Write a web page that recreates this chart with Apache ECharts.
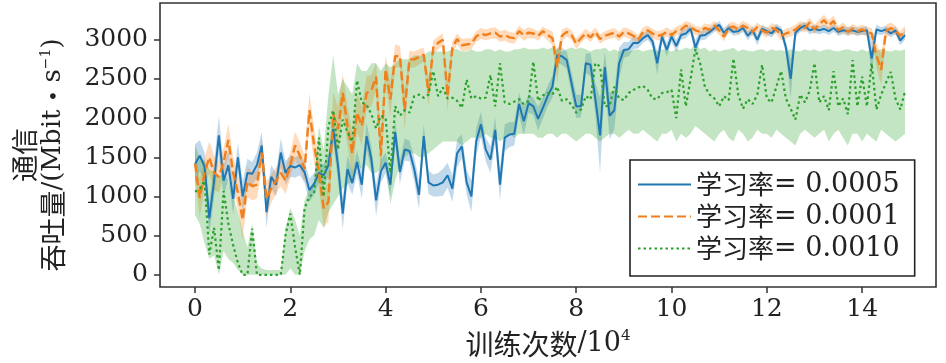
<!DOCTYPE html>
<html>
<head>
<meta charset="utf-8">
<script src="https://cdn.jsdelivr.net/npm/echarts@6/dist/echarts.min.js"></script>
<style>html,body{margin:0;padding:0;background:#fff;}#c{width:946px;height:363px;}</style>
</head>
<body>
<div id="c"></div>
<script>
// training steps (x 10^4)
const steps = Array.from({length: 150}, (_, i) => i / 10);
const xTicks = [0, 2, 4, 6, 8, 10, 12, 14];
const yTicks = [0, 500, 1000, 1500, 2000, 2500, 3000];
const names = ['学习率= 0.0005', '学习率= 0.0001', '学习率= 0.0010'];

const blue = [1415,1520,1380,720,1200,1780,1200,1400,970,1500,
1000,1300,1290,1400,1650,800,1250,1150,1560,1300,
1390,1370,1400,1310,1080,1160,1300,1270,1400,1860,
1400,780,1350,1170,1440,1150,1770,1480,950,1320,
1430,1150,1820,1310,1600,1580,1350,1020,1770,1180,
1140,1150,1180,1270,1100,1550,1640,1180,1000,1700,
1920,1600,1470,1850,1150,1750,1790,1800,2180,1960,
2190,2150,1990,2130,2280,2400,2800,2790,2740,2450,
2150,2150,2700,2680,2250,1780,2650,2030,2100,2700,
2870,2880,2960,2960,3020,3060,2980,2700,3040,2870,
3040,2920,3060,3080,3140,2900,3050,3060,3100,3150,
3190,3090,3150,3100,3110,3150,3050,3120,3000,3140,
3110,3080,3150,3120,2900,2500,3090,3150,3180,3120,
3140,3120,3140,3110,3150,3100,3120,3110,3120,3100,
3110,3120,2760,3130,3110,3130,3080,3120,2990,3060];
const blueStd = [250,200,180,200,220,250,200,180,200,180,
200,180,150,160,180,200,150,150,180,150,
140,130,130,140,150,140,130,140,150,180,
200,200,180,150,150,180,170,160,200,150,
130,150,160,150,140,130,160,180,150,150,
140,150,170,160,170,180,150,160,200,170,
160,150,170,160,200,170,160,150,140,180,
120,110,150,140,130,140,100,110,110,140,
150,140,120,150,200,480,200,300,250,200,
100,90,80,70,60,60,70,150,60,90,
70,80,60,60,50,100,60,60,50,50,
50,60,50,50,50,50,60,50,70,50,
50,50,50,50,80,250,60,50,50,50,
50,50,50,50,50,50,50,50,50,50,
50,60,220,60,50,50,50,50,60,60];

const orange = [1420,980,1300,1500,1300,1250,1440,1720,1300,1050,
700,1190,1130,1150,1560,970,1100,1200,1300,1200,
1400,1650,1520,1350,2100,1650,1300,850,930,2050,
1860,2320,1900,1550,2070,1900,2320,2350,2530,1520,
2620,2240,2790,2790,2100,2750,2750,2780,2810,2320,
2900,2960,3000,2280,2900,3010,2930,2940,2950,3040,
3080,3060,3080,3090,3040,3060,3030,3020,3110,3060,
3090,3080,3050,3110,3060,3020,2650,3050,3100,3060,
2950,3020,3080,3030,3100,3010,3050,3070,3090,3040,
3100,3080,3050,3000,3100,3120,3080,3050,3060,3100,
3060,3110,3130,3180,3160,3120,3100,3150,3130,3180,
3120,3040,3150,3170,3130,3180,3150,3100,3160,3120,
3090,3150,3130,3050,3080,3100,3130,3180,3150,3220,
3130,3200,3250,3180,3240,3120,3160,3100,3140,3110,
3130,3100,3080,2800,2620,3110,3150,3120,3050,3120];
const orangeStd = [200,250,200,200,220,200,180,200,200,220,
250,200,180,180,200,220,180,170,170,170,
160,180,170,170,220,220,200,250,250,280,
280,250,250,280,250,250,220,200,180,280,
180,220,150,130,250,110,100,100,90,180,
90,80,80,200,80,70,80,80,70,70,
70,70,70,70,70,70,70,70,70,70,
70,60,60,60,70,90,200,80,60,60,
70,60,60,60,60,60,60,60,60,60,
60,60,60,60,60,60,60,60,60,60,
60,60,60,60,60,60,60,60,60,60,
60,60,60,60,60,60,60,60,60,60,
60,60,60,60,60,60,60,60,60,60,
60,60,70,70,70,60,60,60,60,60,
60,60,70,150,200,80,70,60,60,60];

const green = [1060,1100,1200,260,600,60,1070,650,380,150,
0,0,590,0,0,0,0,0,0,510,
780,350,0,850,1000,1040,1750,1000,1900,2100,
1600,1980,1820,1700,2480,2200,2170,2050,1870,2030,
2000,1300,2150,2030,2100,2070,2280,2300,2260,2300,
2600,2280,2390,2250,2260,2220,2130,2490,2250,2280,
2250,2260,2550,2150,2700,2200,2180,2210,2240,2180,
2220,2720,2220,2290,2320,2300,2400,2220,2240,2170,
2070,2110,2280,2240,2700,2660,2150,2160,2400,2250,
2230,2320,2360,2390,2410,2360,2250,2240,2320,2330,
2360,2000,2620,2150,2500,2880,2700,2400,2300,2250,
2150,2280,2230,2760,2300,2120,2240,2180,2300,2680,
2250,2200,2400,2600,2250,2120,1980,2300,2200,2350,
2700,2200,2280,2100,2600,2150,2250,2050,2740,2150,
2530,2150,2700,2110,2300,2450,2590,2250,2110,2340];
const greenLo = [760,650,400,200,250,0,300,200,150,60,
0,0,0,0,0,0,0,0,0,0,
80,0,0,300,450,500,700,600,800,900,
1000,1100,1150,1200,1400,1350,1400,1300,1300,1350,
1350,900,1200,1400,1500,1550,1550,1500,1500,1550,
1600,1650,1700,1700,1700,1700,1650,1700,1750,1750,
1750,1800,1750,1750,1700,1750,1800,1750,1800,1800,
1800,1800,1750,1750,1800,1800,1750,1800,1800,1750,
1700,1750,1800,1800,1750,1700,1750,1800,1800,1750,
1800,1850,1800,1800,1850,1800,1750,1700,1800,1800,
1850,1700,1800,1750,1800,1900,1850,1800,1750,1700,
1800,1850,1750,1700,1850,1800,1700,1750,1850,1800,
1800,1750,1850,1800,1750,1700,1650,1800,1850,1800,
1750,1800,1850,1700,1800,1850,1750,1650,1800,1800,
1700,1800,1750,1700,1850,1800,1750,1700,1750,1800];
const greenHi = [1650,1500,1450,1350,1300,1250,1300,1200,1000,800,
550,350,650,150,80,60,60,60,60,600,
850,700,500,950,1100,1200,1900,1600,2300,2800,
2300,2500,2400,2300,2700,2600,2600,2700,2700,2600,
2700,2650,2700,2750,2750,2750,2800,2800,2800,2850,
2850,2850,2850,2850,2880,2880,2850,2850,2880,2850,
2850,2880,2880,2850,2880,2850,2850,2880,2880,2900,
2880,2880,2880,2900,2880,2900,2880,2850,2880,2900,
2880,2900,2880,2850,2880,2880,2900,2850,2880,2850,
2880,2850,2870,2880,2850,2870,2880,2850,2880,2870,
2850,2880,2870,2900,2880,2950,2880,2900,2850,2880,
2850,2870,2880,2900,2850,2880,2860,2850,2870,2880,
2850,2880,2860,2870,2850,2880,2860,2850,2880,2860,
2880,2850,2870,2880,2860,2850,2870,2880,2860,2850,
2880,2850,2870,2860,2880,2860,2850,2870,2860,2880];

const C_BLUE = '#1f77b4', C_ORANGE = '#f07f1c', C_GREEN = '#2ca02c';
const SERIF = 'DejaVu Serif';
const CJK = 'Noto Sans CJK SC';

function bandSeries(lo, hi, fill) {
  return {
    type: 'custom', silent: true, z: 1,
    data: steps.map((x, i) => [x, lo[i], hi[i]]),
    encode: {x: 0, y: [1, 2]},
    renderItem: function (params, api) {
      if (params.dataIndex !== 0) return null;
      const pts = [];
      for (let i = 0; i < steps.length; i++) pts.push(api.coord([steps[i], hi[i]]));
      for (let i = steps.length - 1; i >= 0; i--) pts.push(api.coord([steps[i], lo[i]]));
      return {type: 'polygon', shape: {points: pts}, style: {fill: fill, stroke: null}};
    }
  };
}
function lineSeries(name, vals, color, type, width) {
  return {
    name: name, type: 'line', z: 3, symbol: 'none', showSymbol: false,
    data: steps.map((x, i) => [x, vals[i]]),
    lineStyle: {color: color, width: width, type: type, cap: 'butt'},
    itemStyle: {color: color}
  };
}

const chart = echarts.init(document.getElementById('c'), null, {renderer: 'canvas'});
chart.setOption({
  animation: false,
  backgroundColor: '#fff',
  grid: {left: 160, right: 10, top: 3, bottom: 74, show: true, borderColor: '#333', borderWidth: 1.6, backgroundColor: 'transparent'},
  xAxis: {
    type: 'value', min: -0.735, max: 15.55,
    axisLine: {show: false, onZero: false},
    splitLine: {show: false},
    axisTick: {show: true, inside: false, length: 6, lineStyle: {color: '#333', width: 1.5}, customValues: xTicks},
    axisLabel: {customValues: xTicks, fontFamily: SERIF, fontSize: 25, color: '#222', margin: 10, formatter: v => String(v)},
    name: '{c|训练次数}{n|/10}{s|4}', nameLocation: 'middle', nameGap: 42,
    nameTextStyle: {
      rich: {
        c: {fontFamily: CJK, fontSize: 28, color: '#222', lineHeight: 30},
        n: {fontFamily: SERIF, fontSize: 27, color: '#222', lineHeight: 30},
        s: {fontFamily: SERIF, fontSize: 15, color: '#222', verticalAlign: 'top', lineHeight: 14}
      }
    }
  },
  yAxis: {
    type: 'value', min: -156, max: 3469,
    axisLine: {show: false, onZero: false},
    splitLine: {show: false},
    axisTick: {show: true, inside: false, length: 6, lineStyle: {color: '#333', width: 1.5}, customValues: yTicks},
    axisLabel: {customValues: yTicks, fontFamily: SERIF, fontSize: 25, color: '#222', margin: 12, formatter: v => String(v)}
  },
  legend: {
    orient: 'vertical', left: 630, top: 160,
    data: names,
    padding: [11, 15, 14, 7], itemGap: 5, itemWidth: 53, itemHeight: 14, itemTextGap: 7,
    borderColor: '#222', borderWidth: 1.6, borderRadius: 0, backgroundColor: '#fff',
    itemStyle: {opacity: 0},
    formatter: n => '{c|' + n.slice(0, 3) + '}{n|' + n.slice(3) + '}',
    textStyle: {
      color: '#222', lineHeight: 26,
      rich: {
        c: {fontFamily: CJK, fontSize: 26, color: '#222', lineHeight: 26},
        n: {fontFamily: SERIF, fontSize: 27, color: '#222', lineHeight: 26}
      }
    }
  },
  graphic: [{
    type: 'text', x: 39, y: 155, rotation: Math.PI / 2, z: 10,
    style: {
      text: '{c|通信}\n{c|吞吐量}{n|/(Mbit}{c|・}{n|s}{s|−1}{n|)}',
      align: 'center', verticalAlign: 'middle',
      rich: {
        c: {fontFamily: CJK, fontSize: 27, fill: '#222', lineHeight: 28},
        n: {fontFamily: SERIF, fontSize: 26, fill: '#222', lineHeight: 28},
        s: {fontFamily: SERIF, fontSize: 14, fill: '#222', verticalAlign: 'top', lineHeight: 14}
      }
    }
  }],
  series: [
    bandSeries(blue.map((v, i) => v - blueStd[i]), blue.map((v, i) => v + blueStd[i]), 'rgba(31,119,180,0.28)'),
    bandSeries(orange.map((v, i) => v - orangeStd[i]), orange.map((v, i) => v + orangeStd[i]), 'rgba(255,127,14,0.28)'),
    bandSeries(greenLo, greenHi, 'rgba(44,160,44,0.28)'),
    lineSeries(names[0], blue, C_BLUE, 'solid', 2),
    lineSeries(names[1], orange, C_ORANGE, [9, 4], 2.4),
    lineSeries(names[2], green, C_GREEN, [2.5, 3], 2.2)
  ]
});
</script>
</body>
</html>
